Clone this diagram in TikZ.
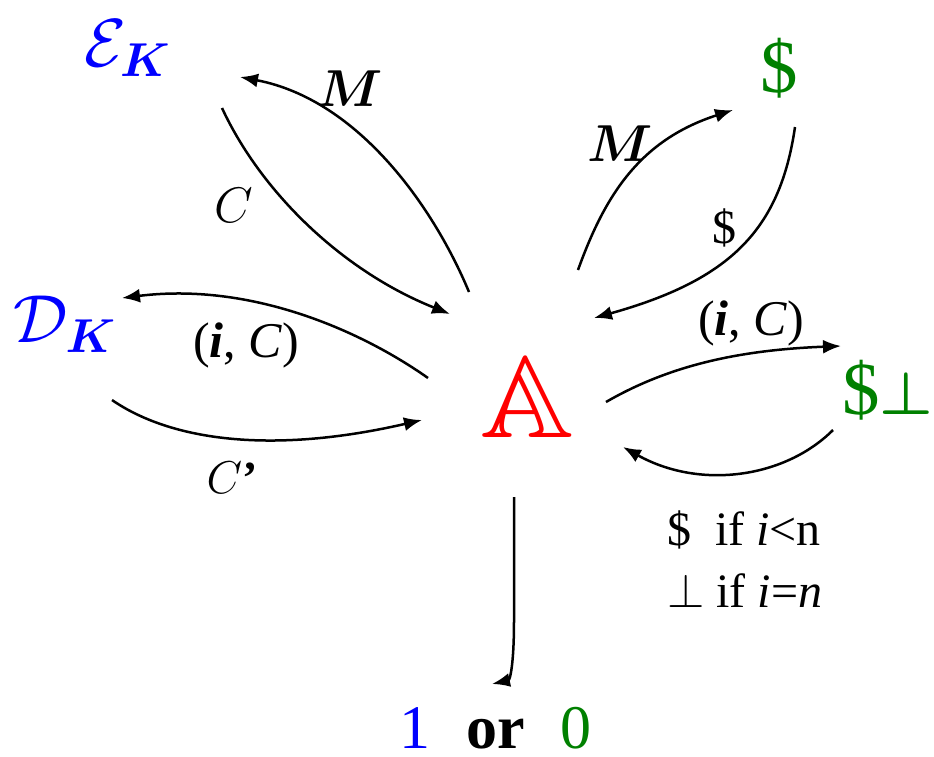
\RequirePackage{fix-cm}
\documentclass[tikz,border=0pt]{standalone}
\usepackage{amssymb,bm}
\usepackage{graphicx}
\usepackage{fontspec}
\setmainfont{Liberation Serif}
\usetikzlibrary{arrows.meta}
\definecolor{myblue}{RGB}{0,0,255}
\definecolor{mygreen}{RGB}{0,128,0}
\definecolor{myred}{RGB}{255,0,0}
\newcommand{\fs}[1]{\fontsize{#1}{#1}\selectfont}
\begin{document}
\begin{tikzpicture}[x=1pt,y=-1pt,
  conn/.style={line width=2.5pt,-{Latex[length=18pt,width=14pt]}},
  lbl/.style={inner sep=0pt},
  party/.style={inner sep=0pt,anchor=base west}]
\useasboundingbox (0,0) rectangle (934,756);
% parties
\node[party,text=myblue,font=\fs{68}] (ek) at (84,66) {$\mathcal{E}_{\bm K}$};
\node[party,text=myblue,font=\fs{68}] (dk) at (13,342) {$\mathcal{D}_{\bm K}$};
\node[lbl,anchor=base,text=myred,font=\fs{116}] (adv) at (527,437) {\scalebox{1.12}[1.0]{$\mathbb{A}$}};
\node[lbl,anchor=base,text=mygreen,font=\fs{75}] (enc) at (779,92) {\$};
\node[lbl,anchor=base west,text=mygreen,font=\fs{75}] (dec) at (842,414) {\$\fontsize{60}{60}\selectfont$\bm{\perp}$};
\node[lbl,anchor=base west,font=\fs{48}] (cond1) at (667,545) {\$\ \ if \textit{i}<n};
\node[lbl,anchor=base west,font=\fs{48}] (cond2) at (667,607) {$\perp$ if \textit{i}=\textit{n}};
\node[lbl,anchor=base,text=myblue,font=\fs{62}] (one) at (415,748) {1};
\node[lbl,anchor=base,font=\fs{62}\bfseries] (or) at (496,748) {or};
\node[lbl,anchor=base,text=mygreen,font=\fs{62}] (zero) at (576,748) {0};
% edge labels
\node[lbl,font=\fs{52}] (lm) at (350,89) {$\bm{M}$};
\node[lbl,font=\fs{50}] (lc) at (234,205) {$C$};
\node[lbl,font=\fs{50}] (lic) at (246,345) {(\textbf{\textit{i}}, \textit{C})};
\node[lbl,font=\fs{46}] (lcp) at (232,478) {$C$\textbf{’}};
\node[lbl,font=\fs{52}] (rm) at (620,144) {$\bm{M}$};
\node[lbl,font=\fs{48}] (rs) at (724,228) {\$};
\node[lbl,font=\fs{50}] (ric) at (751,323) {(\textbf{\textit{i}}, \textit{C})};
% connector end points
\coordinate (m1s) at (469,292); \coordinate (m1e) at (240,77);
\coordinate (c1s) at (222,108); \coordinate (c1e) at (450,314);
\coordinate (d1s) at (428,378); \coordinate (d1e) at (122,298);
\coordinate (d2s) at (112,400); \coordinate (d2e) at (422,420);
\coordinate (m2s) at (578,270); \coordinate (m2e) at (733,110);
\coordinate (s2s) at (795,127); \coordinate (s2e) at (594,318);
\coordinate (o1s) at (606,402); \coordinate (o1e) at (841,346);
\coordinate (o2s) at (833,430); \coordinate (o2e) at (623,447);
\coordinate (outs) at (514,497); \coordinate (outm) at (514,620); \coordinate (oute) at (492,684);
% connectors
\draw[conn] (m1s) .. controls (435,210) and (360,100) .. (m1e);
\draw[conn] (c1s) .. controls (260,190) and (340,270) .. (c1e);
\draw[conn] (d1s) .. controls (360,330) and (250,282) .. (d1e);
\draw[conn] (d2s) .. controls (170,440) and (270,455) .. (d2e);
\draw[conn] (m2s) .. controls (605,195) and (640,140) .. (m2e);
\draw[conn] (s2s) .. controls (780,230) and (730,280) .. (s2e);
\draw[conn] (o1s) .. controls (670,365) and (740,350) .. (o1e);
\draw[conn] (o2s) .. controls (785,478) and (700,490) .. (o2e);
\draw[conn] (outs) -- (outm) .. controls (514,665) and (510,680) .. (oute);
\end{tikzpicture}
\end{document}
